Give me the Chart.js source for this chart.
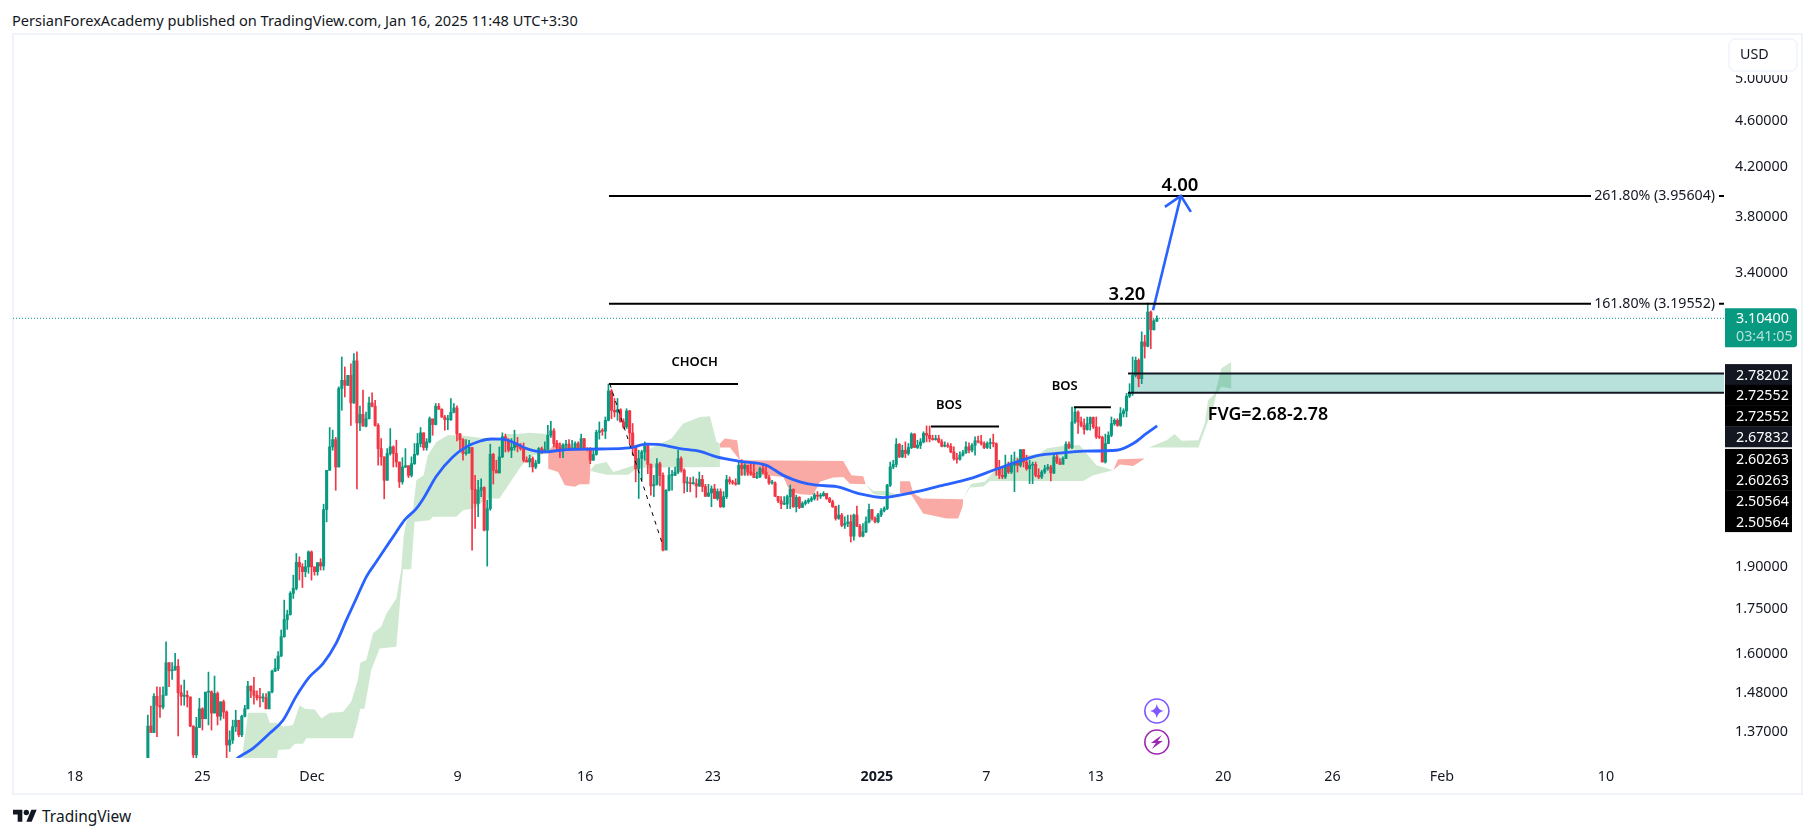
<!DOCTYPE html>
<html><head><meta charset="utf-8">
<script src="https://cdn.jsdelivr.net/npm/chart.js@4"></script>
<style>
html,body{margin:0;padding:0;background:#fff;width:1814px;height:837px;overflow:hidden}
#hdr{position:absolute;left:12px;top:10px;font:14.6px "Noto Sans",sans-serif;color:#131722;white-space:nowrap}
#frame{position:absolute;left:12px;top:33px;width:1787px;height:758px;border:2px solid #f0f3fa}
#foot{position:absolute;left:13px;top:805px;display:flex;align-items:center;color:#131722;font:15.5px "Noto Sans",sans-serif}
canvas{position:absolute;left:0;top:0}
</style></head><body>
<div id="hdr">PersianForexAcademy published on TradingView.com, Jan 16, 2025 11:48 UTC+3:30</div>
<div id="frame"></div>
<div id="foot"><svg width="24" height="19" viewBox="0 0 36 28" fill="#131722"><path d="M14 22H7V11H0V4h14v18zM28 22h-8l7.5-18h8L28 22z"/><circle cx="20" cy="8" r="4"/></svg><span style="margin-left:5px">TradingView</span></div>
<canvas id="c" width="1814" height="837"></canvas>
<script>
const FONT='"Noto Sans",sans-serif';
const tickDays=[0,7,13,21,28,35,44,50,56,63,69,75,84];
const tickLabels=['18','25','Dec','9','16','23','2025','7','13','20','26','Feb','10'];
const priceTicks=[5,4.6,4.2,3.8,3.4,1.9,1.75,1.6,1.48,1.37];
const firstCandleDay=4, candlesPerDay=6.015, firstOpen=1.26;
const closes=[
1.384,1.366,1.468,1.442,1.437,1.471,1.569,1.544,1.546,1.558,
1.478,1.468,1.471,1.466,1.384,1.307,1.380,1.432,1.404,1.480,
1.481,1.420,1.476,1.411,1.452,1.423,1.333,1.346,1.382,1.400,
1.360,1.411,1.432,1.498,1.484,1.471,1.464,1.463,1.464,1.432,
1.481,1.543,1.551,1.590,1.652,1.709,1.726,1.800,1.818,1.914,
1.897,1.879,1.897,1.954,1.897,1.879,1.913,1.900,2.125,2.297,
2.406,2.441,2.312,2.701,2.745,2.718,2.772,2.625,2.853,2.523,
2.566,2.507,2.544,2.625,2.608,2.511,2.398,2.359,2.252,2.375,
2.406,2.375,2.335,2.245,2.312,2.318,2.274,2.327,2.371,2.422,
2.474,2.403,2.430,2.544,2.515,2.608,2.592,2.553,2.539,2.539,
2.577,2.599,2.468,2.441,2.375,2.378,2.403,2.212,2.151,2.208,
2.220,2.040,2.129,2.371,2.297,2.285,2.359,2.455,2.435,2.390,
2.403,2.419,2.406,2.398,2.343,2.335,2.351,2.312,2.330,2.398,
2.382,2.393,2.462,2.484,2.422,2.403,2.390,2.414,2.419,2.393,
2.398,2.422,2.398,2.446,2.398,2.393,2.343,2.370,2.476,2.484,
2.482,2.536,2.688,2.587,2.578,2.590,2.528,2.503,2.584,2.473,
2.403,2.304,2.351,2.382,2.412,2.324,2.227,2.234,2.327,2.274,
1.961,2.208,2.274,2.274,2.289,2.351,2.297,2.240,2.240,2.237,
2.237,2.227,2.256,2.224,2.182,2.196,2.214,2.172,2.202,2.137,
2.180,2.255,2.245,2.240,2.235,2.320,2.304,2.320,2.289,2.282,
2.264,2.267,2.304,2.289,2.264,2.240,2.240,2.182,2.162,2.148,
2.148,2.180,2.212,2.137,2.177,2.134,2.151,2.158,2.165,2.172,
2.187,2.182,2.184,2.194,2.172,2.158,2.137,2.088,2.102,2.060,
2.067,2.074,2.016,2.102,2.056,2.016,2.033,2.074,2.125,2.088,
2.074,2.102,2.120,2.129,2.230,2.312,2.324,2.419,2.359,2.390,
2.375,2.403,2.468,2.403,2.414,2.430,2.471,2.462,2.446,2.441,
2.446,2.430,2.409,2.414,2.409,2.382,2.351,2.348,2.367,2.378,
2.406,2.390,2.414,2.435,2.430,2.422,2.403,2.422,2.425,2.422,
2.304,2.274,2.267,2.320,2.289,2.320,2.330,2.320,2.393,2.335,
2.304,2.320,2.324,2.274,2.267,2.289,2.304,2.312,2.285,2.359,
2.335,2.324,2.351,2.419,2.403,2.528,2.578,2.528,2.511,2.490,
2.520,2.550,2.503,2.455,2.452,2.335,2.422,2.462,2.520,2.536,
2.511,2.570,2.584,2.660,2.675,2.772,2.856,2.754,2.962,2.937,
3.143,3.035,3.088,3.104];
const highs=[
1.414,1.440,1.476,1.496,1.494,1.496,1.635,1.569,1.569,1.598,
1.579,1.501,1.516,1.484,1.466,1.384,1.408,1.462,1.435,1.480,
1.540,1.484,1.528,1.481,1.452,1.457,1.426,1.371,1.400,1.428,
1.398,1.414,1.442,1.512,1.498,1.524,1.484,1.491,1.476,1.476,
1.481,1.546,1.581,1.604,1.674,1.776,1.741,1.806,1.866,1.948,
1.935,1.909,1.922,1.958,1.958,1.897,1.913,1.928,2.148,2.297,
2.500,2.487,2.452,2.710,2.875,2.819,2.772,2.837,2.895,2.904,
2.608,2.692,2.578,2.656,2.678,2.639,2.520,2.446,2.359,2.398,
2.495,2.411,2.438,2.335,2.355,2.398,2.318,2.359,2.422,2.471,
2.500,2.474,2.446,2.553,2.541,2.622,2.622,2.595,2.561,2.561,
2.648,2.622,2.610,2.471,2.446,2.441,2.438,2.403,2.274,2.252,
2.259,2.223,2.165,2.419,2.375,2.343,2.406,2.474,2.468,2.446,
2.446,2.487,2.452,2.422,2.425,2.359,2.367,2.359,2.343,2.403,
2.406,2.430,2.511,2.531,2.495,2.438,2.425,2.422,2.438,2.441,
2.438,2.430,2.430,2.468,2.446,2.403,2.403,2.398,2.487,2.528,
2.495,2.553,2.725,2.696,2.648,2.648,2.595,2.544,2.595,2.587,
2.520,2.414,2.390,2.390,2.430,2.422,2.327,2.274,2.351,2.335,
2.285,2.211,2.309,2.297,2.312,2.390,2.359,2.304,2.267,2.264,
2.267,2.259,2.289,2.274,2.234,2.234,2.227,2.234,2.214,2.214,
2.202,2.274,2.267,2.252,2.259,2.343,2.346,2.327,2.320,2.327,
2.324,2.289,2.312,2.320,2.315,2.274,2.252,2.245,2.182,2.180,
2.180,2.187,2.231,2.214,2.187,2.180,2.158,2.165,2.172,2.180,
2.194,2.202,2.194,2.202,2.194,2.177,2.165,2.140,2.144,2.109,
2.095,2.102,2.102,2.106,2.140,2.064,2.067,2.095,2.148,2.125,
2.095,2.109,2.129,2.137,2.234,2.335,2.343,2.446,2.422,2.414,
2.430,2.422,2.474,2.471,2.438,2.446,2.479,2.508,2.508,2.462,
2.462,2.462,2.441,2.430,2.425,2.422,2.406,2.375,2.382,2.390,
2.430,2.425,2.422,2.455,2.458,2.462,2.430,2.430,2.446,2.468,
2.425,2.343,2.312,2.367,2.335,2.367,2.382,2.351,2.393,2.393,
2.367,2.343,2.335,2.335,2.304,2.297,2.320,2.324,2.320,2.367,
2.375,2.351,2.359,2.430,2.430,2.604,2.604,2.584,2.553,2.544,
2.553,2.553,2.553,2.553,2.503,2.458,2.468,2.479,2.553,2.544,
2.544,2.601,2.595,2.675,2.727,2.875,2.875,2.865,3.022,3.002,
3.200,3.150,3.096,3.120];
const lows=[
1.260,1.366,1.366,1.355,1.408,1.432,1.471,1.496,1.518,1.546,
1.357,1.442,1.442,1.437,1.382,1.260,1.260,1.380,1.373,1.404,
1.387,1.373,1.420,1.387,1.400,1.405,1.260,1.316,1.337,1.369,
1.355,1.355,1.409,1.432,1.464,1.445,1.457,1.437,1.452,1.432,
1.432,1.478,1.541,1.544,1.588,1.650,1.676,1.724,1.782,1.812,
1.848,1.821,1.860,1.873,1.848,1.866,1.866,1.885,1.885,2.074,
2.297,2.390,2.208,2.312,2.587,2.656,2.718,2.511,2.622,2.214,
2.484,2.507,2.503,2.543,2.604,2.507,2.320,2.320,2.171,2.252,
2.367,2.312,2.312,2.220,2.235,2.309,2.264,2.267,2.324,2.367,
2.406,2.390,2.390,2.425,2.462,2.513,2.592,2.550,2.487,2.490,
2.536,2.573,2.435,2.390,2.343,2.367,2.375,1.961,2.047,2.095,
2.180,2.037,1.900,2.122,2.235,2.285,2.285,2.355,2.382,2.382,
2.355,2.390,2.382,2.390,2.335,2.335,2.312,2.289,2.304,2.327,
2.375,2.387,2.390,2.452,2.406,2.390,2.355,2.355,2.390,2.390,
2.393,2.393,2.393,2.393,2.393,2.387,2.327,2.343,2.367,2.443,
2.462,2.446,2.533,2.544,2.553,2.536,2.528,2.495,2.495,2.422,
2.367,2.245,2.172,2.252,2.343,2.282,2.187,2.180,2.230,2.227,
1.958,1.963,2.205,2.208,2.274,2.282,2.289,2.196,2.202,2.201,
2.234,2.177,2.224,2.202,2.180,2.180,2.137,2.172,2.165,2.134,
2.134,2.172,2.235,2.234,2.230,2.234,2.274,2.274,2.274,2.274,
2.264,2.259,2.264,2.282,2.259,2.234,2.235,2.180,2.154,2.129,
2.146,2.129,2.129,2.134,2.115,2.129,2.134,2.144,2.151,2.158,
2.165,2.165,2.172,2.182,2.168,2.154,2.134,2.081,2.084,2.054,
2.047,2.054,1.993,2.000,2.054,2.013,2.013,2.030,2.070,2.081,
2.070,2.070,2.095,2.115,2.125,2.224,2.304,2.312,2.355,2.355,
2.355,2.367,2.398,2.403,2.398,2.398,2.425,2.430,2.430,2.438,
2.438,2.425,2.406,2.406,2.403,2.378,2.343,2.330,2.343,2.362,
2.375,2.378,2.382,2.367,2.425,2.414,2.398,2.398,2.398,2.406,
2.274,2.259,2.259,2.259,2.282,2.282,2.202,2.289,2.312,2.312,
2.297,2.237,2.237,2.267,2.259,2.259,2.282,2.297,2.249,2.282,
2.327,2.324,2.327,2.351,2.398,2.398,2.520,2.471,2.503,2.468,
2.487,2.487,2.495,2.446,2.446,2.335,2.330,2.422,2.455,2.511,
2.506,2.506,2.553,2.553,2.653,2.664,2.763,2.710,2.727,2.869,
2.933,2.923,3.032,3.083];
// moving average: [candle index, price]
const maLine=[[27,1.28],[29.8,1.300],[34.7,1.324],[40.2,1.364],[44.6,1.400],[48.9,1.467],[53.4,1.526],[57.8,1.566],[62.2,1.632],[65.5,1.707],[68.8,1.782],[72.1,1.860],[75.4,1.916],[78.7,1.974],[82,2.033],[84.7,2.081],[88.6,2.129],[91.3,2.180],[95.2,2.270],[100.7,2.359],[105.1,2.406],[109.5,2.433],[113.3,2.444],[117.1,2.443],[121.5,2.422],[125,2.398],[130.5,2.382],[138.2,2.393],[149.1,2.396],[159,2.401],[164.6,2.419],[168.9,2.417],[175.6,2.398],[182.2,2.385],[187.7,2.359],[195.4,2.338],[204.1,2.320],[209.7,2.274],[215.2,2.245],[220.7,2.230],[227.3,2.224],[235,2.192],[242.7,2.176],[248.2,2.187],[253.7,2.202],[261.4,2.227],[271.3,2.259],[279,2.297],[286.7,2.335],[294.4,2.367],[299.9,2.375],[308.7,2.386],[319.7,2.390],[325.2,2.422],[329.6,2.471],[333.1,2.508]];
// cloud regions: [candle index, price]
const green1Up=[[30.3,1.26],[33.1,1.421],[39.1,1.421],[40.2,1.393],[42.4,1.393],[44.6,1.382],[47.9,1.387],[50.1,1.442],[51.8,1.432],[55.1,1.430],[57.3,1.405],[60,1.421],[64.4,1.423],[67.1,1.452],[69.3,1.516],[70.1,1.569],[72.1,1.577],[74.3,1.663],[77,1.685],[78.7,1.729],[82,1.782],[83.6,1.885],[84.4,2.013],[85.3,2.074],[87.5,2.122],[88.6,2.252],[91,2.274],[92.4,2.367],[95.2,2.430],[99,2.462],[102.9,2.462],[116.2,2.438],[118.4,2.468],[121.7,2.468],[126,2.474],[132.1,2.468]];
const green1Low=[[30.3,1.26],[41.9,1.26],[43,1.320],[46.8,1.322],[48.5,1.336],[51.2,1.336],[52.3,1.351],[67.7,1.351],[69.3,1.400],[70.1,1.432],[71.5,1.432],[73.7,1.546],[76.5,1.614],[82,1.619],[83.1,1.753],[84.2,1.888],[86.9,1.888],[88,2.074],[93,2.081],[94.1,2.095],[101.8,2.095],[104,2.122],[107.3,2.129],[112.2,2.172],[116,2.172],[118.8,2.227],[122.6,2.304],[123.9,2.327],[127.2,2.367],[132.1,2.375]];
const red1Up=[[132.1,2.387],[134.9,2.430],[137.1,2.414],[146.1,2.390]];
const red1Low=[[132.1,2.304],[135.4,2.289],[137.6,2.230],[140.9,2.223],[142.5,2.234],[145.7,2.234],[146.1,2.297]];
const green2Up=[[146.1,2.297],[147.5,2.324],[151.4,2.335],[153.6,2.289],[158,2.309],[161.8,2.327],[164.6,2.390],[172.8,2.446],[176.7,2.520],[182.2,2.553],[185.5,2.556],[187.7,2.430],[188.8,2.422]];
const green2Low=[[146.1,2.294],[151.4,2.277],[158.5,2.277],[161.8,2.309],[188.8,2.312]];
const red2Up=[[188.8,2.422],[190.4,2.446],[194.5,2.438],[195.4,2.343]];
const red2Low=[[188.8,2.403],[192.1,2.403],[195.4,2.343]];
const red3Up=[[195.4,2.343],[229.5,2.340],[232.2,2.274],[236.1,2.270],[236.9,2.234]];
const red3Low=[[195.4,2.274],[204.1,2.274],[209.7,2.267],[211.9,2.202],[215.2,2.190],[219.6,2.187],[221.8,2.245],[226.2,2.264],[229.5,2.267],[231.7,2.237],[236.9,2.234]];
const green3Up=[[236.9,2.234],[239.4,2.205],[243.8,2.205],[247.6,2.187],[248.2,2.180]];
const green3Low=[[236.9,2.234],[239.4,2.192],[248.2,2.175]];
const red4Up=[[248.2,2.248],[251.5,2.248],[252.6,2.196],[255.4,2.172],[268.6,2.169],[269.1,2.169]];
const red4Low=[[248.2,2.196],[252,2.187],[255.9,2.109],[263.6,2.088],[267.4,2.088],[268.9,2.137],[269.1,2.169]];
const green4Up=[[269.1,2.169],[270.7,2.214],[271.8,2.237],[276.2,2.245],[279,2.289],[286.7,2.359],[294.4,2.375],[296.6,2.398],[303.2,2.414],[307.6,2.414],[309.8,2.375],[313.1,2.320],[318.6,2.297]];
const green4Low=[[269.1,2.169],[271.3,2.220],[275.7,2.224],[277.9,2.249],[308.7,2.249],[312,2.274],[318.6,2.297]];
const red5Up=[[318.6,2.297],[320.2,2.348],[329,2.351]];
const red5Low=[[318.6,2.297],[320.8,2.324],[325.2,2.317],[329,2.351]];
const green5Up=[[329,2.351],[330.7,2.406],[336.2,2.438],[338.9,2.468],[341.1,2.435],[346.7,2.438],[348.8,2.520],[349.9,2.639],[352.2,2.675],[354.3,2.811],[357.6,2.847]];
const green5Low=[[329,2.351],[330.7,2.403],[346.7,2.403],[348.8,2.487],[351.6,2.604],[352.7,2.675],[354.3,2.710],[357.6,2.701]];
// drawing tools: x in days after 18 Nov, y in price
const lastPrice=3.104;
const fibStartDay=29.3;
const fibLevels=[3.95604,3.19552];
const fibLabels=['261.80% (3.95604)','161.80% (3.19552)'];
const chochLine=[[29.3,2.72552],[36.38,2.72552]];
const bos1Line=[[46.97,2.50564],[50.7,2.50564]];
const bos2Line=[[54.81,2.60263],[56.84,2.60263]];
const dashLine=[[29.35,2.72552],[32.26,1.979]];
const arrowLine=[[59.15,3.154],[60.68,3.956]];
const fvgTop=2.78202, fvgBottom=2.67832, fvgStubDay=57.78, fvgStartDay=58.05;
const notes=[['CHOCH',34.0,2.845,'600 13px','center'],['BOS',47.95,2.613,'600 13px','center'],['BOS',54.3,2.712,'600 13px','center'],['FVG=2.68-2.78',62.16,2.562,'600 17.8px','left'],['4.00',60.63,4.04,'600 18.5px','center'],['3.20',57.72,3.255,'600 18.5px','center']];
const stackLabels=[2.78202,2.72552,2.72552,2.67832,2.60263,2.60263,2.50564,2.50564];
const stackDark=[true,false,false,true,false,false,false,false];
const X_MIN=-3.40,X_MAX=90.48,Y_MIN=1.299,Y_MAX=5.452;
const GREEN='#089981',RED='#f23645',BLUE='#2962ff',INK='#131722';
const CLOUD_G='rgba(76,175,80,0.27)',CLOUD_R='rgba(244,67,54,0.45)';

const dayOf=i=>firstCandleDay+i/candlesPerDay;
const opens=closes.map((c,i)=>i?closes[i-1]:firstOpen);
const colors=closes.map((c,i)=>c>=opens[i]?GREEN:RED);
const idxPts=a=>a.map(p=>({x:dayOf(p[0]),y:p[1]}));
const dayPts=a=>a.map(p=>({x:p[0],y:p[1]}));
const lineDs=(data,color,width,extra)=>Object.assign({type:'line',data,borderColor:color,borderWidth:width,pointRadius:0,fill:false,tension:0,order:5,clip:true},extra||{});
const datasets=[];
const cloud=(up,low,color)=>{
  datasets.push(lineDs(idxPts(low),'transparent',0,{order:30}));
  datasets.push(lineDs(idxPts(up),'transparent',0,{order:30,fill:'-1',backgroundColor:color}));
};
cloud(green1Up,green1Low,CLOUD_G);cloud(red1Up,red1Low,CLOUD_R);cloud(green2Up,green2Low,CLOUD_G);
cloud(red2Up,red2Low,CLOUD_R);cloud(red3Up,red3Low,CLOUD_R);cloud(green3Up,green3Low,CLOUD_G);
cloud(red4Up,red4Low,CLOUD_R);cloud(green4Up,green4Low,CLOUD_G);cloud(red5Up,red5Low,CLOUD_R);cloud(green5Up,green5Low,CLOUD_G);
// FVG box
datasets.push(lineDs([{x:fvgStartDay,y:fvgBottom},{x:X_MAX,y:fvgBottom}],'transparent',0,{order:25}));
datasets.push(lineDs([{x:fvgStartDay,y:fvgTop},{x:X_MAX,y:fvgTop}],'transparent',0,{order:25,fill:'-1',backgroundColor:'rgba(8,153,129,0.29)'}));
// candles
datasets.push({type:'bar',order:20,grouped:false,barThickness:1,maxBarThickness:1,borderWidth:0,backgroundColor:colors,data:closes.map((c,i)=>({x:dayOf(i),y:[lows[i],highs[i]]}))});
datasets.push({type:'bar',order:19,grouped:false,barThickness:2.4,maxBarThickness:2.4,minBarLength:1,borderWidth:0,backgroundColor:colors,data:closes.map((c,i)=>({x:dayOf(i),y:[opens[i],closes[i]]}))});
// MA
datasets.push(lineDs(idxPts(maLine),BLUE,2.8,{order:10,cubicInterpolationMode:'monotone'}));
// price line
datasets.push(lineDs([{x:X_MIN,y:lastPrice},{x:X_MAX,y:lastPrice}],GREEN,1,{order:15,borderDash:[1,2]}));
// tools
fibLevels.forEach(v=>datasets.push(lineDs([{x:fibStartDay,y:v},{x:X_MAX,y:v}],'#000',2)));
datasets.push(lineDs(dayPts(chochLine),'#000',2));
datasets.push(lineDs(dayPts(bos1Line),'#000',2));
datasets.push(lineDs(dayPts(bos2Line),'#000',2));
datasets.push(lineDs(dayPts(dashLine),'#000',1,{borderDash:[4,5]}));
datasets.push(lineDs([{x:fvgStubDay,y:fvgTop},{x:X_MAX,y:fvgTop}],INK,2));
datasets.push(lineDs([{x:fvgStubDay,y:fvgBottom},{x:X_MAX,y:fvgBottom}],INK,2));
datasets.push(lineDs(dayPts(arrowLine),BLUE,2.6));

const overlay={id:'overlay',afterDraw(ch){
  const c=ch.ctx,xs=ch.scales.x,ys=ch.scales.y,A=ch.chartArea;
  c.save();
  c.textBaseline='middle';
  // arrow head
  const tx=xs.getPixelForValue(arrowLine[1][0]),ty=ys.getPixelForValue(arrowLine[1][1]);
  c.strokeStyle=BLUE;c.lineWidth=2.6;c.beginPath();c.moveTo(tx-16,ty+11);c.lineTo(tx,ty);c.lineTo(tx+10,ty+16);c.stroke();
  // notes
  notes.forEach(n=>{c.fillStyle='#000';c.font=n[3]+' '+FONT;c.textAlign=n[4];c.fillText(n[0],xs.getPixelForValue(n[1]),ys.getPixelForValue(n[2]));});
  // fib labels
  c.font='14.2px '+FONT;c.textAlign='right';
  fibLevels.forEach((v,i)=>{const y=ys.getPixelForValue(v);c.fillStyle='#fff';c.fillRect(A.right-133,y-8,128,16);c.fillStyle=INK;c.fillText(fibLabels[i],A.right-9,y);});
  // stacked price labels
  const rowH=20.7,bx=A.right+1,bw=67;
  c.textAlign='left';c.font='14.3px '+FONT;
  let y=ys.getPixelForValue(stackLabels[0])+1;
  stackLabels.forEach((v,i)=>{
    if(i===4)y+=2;
    const top=y-10.5;
    c.fillStyle=stackDark[i]?INK:'#000';c.fillRect(bx,top,bw,rowH+0.4);
    c.fillStyle='#fff';c.fillText(v.toFixed(5),bx+11,y+1);
    y+=rowH;
  });
  // last price label
  const ly=ys.getPixelForValue(lastPrice);
  c.fillStyle=GREEN;c.beginPath();c.roundRect(bx,ly-10,72,39,[0,3,3,0]);c.fill();
  c.fillStyle='#fff';c.fillText(lastPrice.toFixed(5),bx+11,ly+1);
  c.fillStyle='rgba(255,255,255,0.7)';c.fillText('03:41:05',bx+11,ly+19);
  // USD button, with the white strip that cuts the top tick label
  c.fillStyle='#fff';c.fillRect(A.right+5,60,68,15);
  c.strokeStyle='#f0f3fa';c.lineWidth=1.5;c.beginPath();c.roundRect(A.right+5,39,68,32,6);c.fill();c.stroke();
  c.fillStyle=INK;c.font='14.3px '+FONT;c.fillText('USD',A.right+16,55);
  // event icons
  const ix=xs.getPixelForValue(dayOf(closes.length-1));
  [[A.bottom-47,'#7e57ff'],[A.bottom-16,'#9c27b0']].forEach((e,k)=>{
    const iy=e[0];
    c.strokeStyle=e[1];c.lineWidth=1.6;c.fillStyle='#fff';c.beginPath();c.arc(ix,iy,12,0,Math.PI*2);c.fill();c.stroke();
    c.fillStyle=e[1];c.beginPath();
    if(k===0){c.moveTo(ix,iy-7);c.quadraticCurveTo(ix+1,iy-1,ix+7,iy);c.quadraticCurveTo(ix+1,iy+1,ix,iy+7);c.quadraticCurveTo(ix-1,iy+1,ix-7,iy);c.quadraticCurveTo(ix-1,iy-1,ix,iy-7);}
    else{c.moveTo(ix+5,iy-7);c.lineTo(ix-6,iy+1);c.lineTo(ix-1,iy+1);c.lineTo(ix-5,iy+7);c.lineTo(ix+6,iy-1);c.lineTo(ix+1,iy-1);c.closePath();}
    c.fill();
  });
  c.restore();
}};

new Chart(document.getElementById('c'),{
  data:{datasets},
  plugins:[overlay],
  options:{
    responsive:false,animation:false,devicePixelRatio:1,events:[],
    layout:{padding:{left:13,right:14,top:34,bottom:44}},
    plugins:{legend:{display:false},tooltip:{enabled:false},title:{display:false}},
    scales:{
      x:{type:'linear',min:X_MIN,max:X_MAX,offset:false,
        border:{display:false},grid:{display:false,drawTicks:false},
        afterFit:s=>{s.height=35},
        afterBuildTicks:s=>{s.ticks=tickDays.map(v=>({value:v}))},
        ticks:{autoSkip:false,maxRotation:0,minRotation:0,padding:10,color:INK,
          font:ctx=>({family:FONT,size:14.3,weight:ctx.tick&&ctx.tick.label==='2025'?'bold':'normal'}),
          callback:v=>tickLabels[tickDays.indexOf(v)]}},
      y:{type:'logarithmic',position:'right',min:Y_MIN,max:Y_MAX,
        border:{display:false},grid:{display:false,drawTicks:false},
        afterFit:s=>{s.width=76},
        afterBuildTicks:s=>{s.ticks=priceTicks.map(v=>({value:v}))},
        ticks:{autoSkip:false,padding:11,labelOffset:1,color:INK,font:{family:FONT,size:14.3},callback:v=>Number(v).toFixed(5)}}
    }
  }
});
</script></body></html>
